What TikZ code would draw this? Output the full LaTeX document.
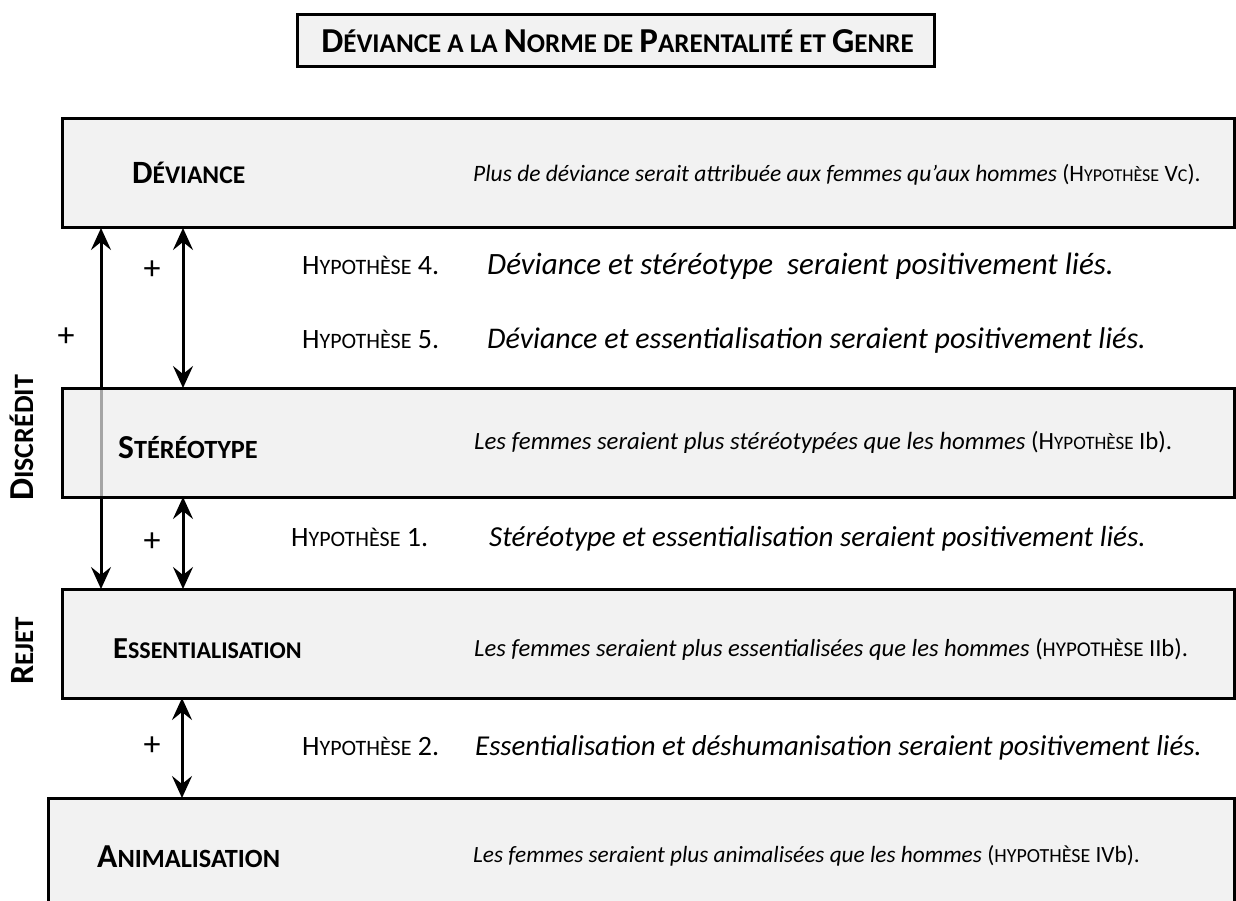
\documentclass[tikz,border=0pt]{standalone}
\usepackage{fontspec}
\setmainfont{Carlito}
\usetikzlibrary{arrows.meta,backgrounds}
\definecolor{boxfill}{HTML}{F2F2F2}
\definecolor{boxfillT}{HTML}{ECECEC}
\newcommand\sz[2]{{\fontsize{#1}{#1}\selectfont #2}}
\newcommand\hyplab[1]{\sz{28}{H}\sz{22}{YPOTHÈSE}\sz{28}{ #1.}}
\tikzset{
  box/.style={draw=black, line width=3pt, fill=boxfill, minimum width=1172pt,
    minimum height=109pt, inner sep=0pt, outer sep=0pt},
  boxlab/.style={anchor=base west, inner sep=0pt, font=\bfseries},
  desc/.style={anchor=base west, inner sep=0pt},
  hyp/.style={anchor=base west, inner sep=0pt},
  sent/.style={anchor=base west, inner sep=0pt, font=\itshape},
  plus/.style={inner sep=0pt, font=\fontsize{34}{34}\selectfont},
  vlab/.style={rotate=90, anchor=base, inner sep=0pt, font=\bfseries},
  dbl/.style={line width=3pt,
    {Stealth[length=22pt,width=20pt,inset=8pt]}-{Stealth[length=22pt,width=20pt,inset=8pt]}}
}
\begin{document}
\begin{tikzpicture}[x=1pt,y=-1pt]
\useasboundingbox (0,0) rectangle (1236,901);
\clip (0,0) rectangle (1236,901);

% title
\node[draw=black, line width=3pt, fill=boxfill, minimum width=637pt, minimum height=52pt,
  inner sep=0pt] (title) at (615.5,41) {};
\node[anchor=base, inner sep=0pt, font=\bfseries\fontsize{27}{27}\selectfont] (titletxt) at (617.5,53)
 {\sz{35}{D}ÉVIANCE A LA \sz{35}{N}ORME DE \sz{35}{P}ARENTALITÉ ET \sz{35}{G}ENRE};

% boxes
\node[box] (b1) at (648,173.5) {};
\node[box] (b3) at (648,643.5) {};
\node[box, minimum width=1186pt, minimum height=140pt] (b4) at (641,868) {};

% box 2 semi-transparent over the long arrow
\node[box, fill=boxfillT, fill opacity=0.7, text opacity=1] (b2) at (648,442.5) {};

\coordinate (xL) at (101,0);
\coordinate (xR) at (183,0);
\coordinate (xR2) at (182,0);

\begin{pgfonlayer}{background}
\draw[dbl] (b1.south -| xL) -- (b3.north -| xL);
\end{pgfonlayer}
\draw[dbl] (b1.south -| xR) -- (b2.north -| xR);
\draw[dbl] (b2.south -| xR) -- (b3.north -| xR);
\draw[dbl] (b3.south -| xR2) -- (b4.north -| xR2);

% box labels
\node[boxlab] (l1) at (132,184) {\sz{32.5}{D}\sz{25.5}{ÉVIANCE}};
\node[boxlab] (l2) at (118,458) {\sz{33.5}{S}\sz{26.3}{TÉRÉOTYPE}};
\node[boxlab] (l3) at (113,658) {\sz{30.5}{E}\sz{24}{SSENTIALISATION}};
\node[boxlab] (l4) at (97,867) {\sz{33.5}{A}\sz{26.3}{NIMALISATION}};

% box descriptions
\node[desc] (d1) at (473,182) {\fontsize{23.5}{23.5}\selectfont\textit{Plus de déviance serait attribuée aux femmes qu’aux hommes} (\sz{23.5}{H}\sz{18}{YPOTHÈSE} \sz{23.5}{V}\sz{18}{C}).};
\node[desc] (d2) at (474,449) {\fontsize{24.8}{24.8}\selectfont\textit{Les femmes seraient plus stéréotypées que les hommes} (\sz{24.8}{H}\sz{19}{YPOTHÈSE} Ib).};
\node[desc] (d3) at (474,656) {\fontsize{24.6}{24.6}\selectfont\textit{Les femmes seraient plus essentialisées que les hommes} (\sz{21}{HYPOTHÈSE} IIb).};
\node[desc] (d4) at (473,862) {\fontsize{23.3}{23.3}\selectfont\textit{Les femmes seraient plus animalisées que les hommes} (\sz{20}{HYPOTHÈSE} IVb).};

% hypotheses
\node[hyp] (h4) at (302,275) {\hyplab{4}};
\node[sent] (s4) at (487,275) {\fontsize{31}{31}\selectfont Déviance et stéréotype\hspace{14pt}seraient positivement liés.};
\node[hyp] (h5) at (302,348) {\hyplab{5}};
\node[sent] (s5) at (487,348) {\fontsize{30}{30}\selectfont Déviance et essentialisation seraient positivement liés.};
\node[hyp] (h1) at (291,546) {\hyplab{1}};
\node[sent] (s1) at (489,546) {\fontsize{29}{29}\selectfont Stéréotype et essentialisation seraient positivement liés.};
\node[hyp] (h2) at (302,755) {\hyplab{2}};
\node[sent] (s2) at (475,755) {\fontsize{28.8}{28.8}\selectfont Essentialisation et déshumanisation seraient positivement liés.};

% plus signs
\node[plus] (p1) at (152,270) {+};
\node[plus] (p2) at (66,337) {+};
\node[plus] (p3) at (152,542) {+};
\node[plus] (p4) at (152,746) {+};

% vertical labels
\node[vlab] (disc) at (33,438) {\sz{35}{D}\sz{28}{ISCRÉDIT}};
\node[vlab] (rej) at (33,651) {\sz{34}{R}\sz{27}{EJET}};
\end{tikzpicture}
\end{document}
